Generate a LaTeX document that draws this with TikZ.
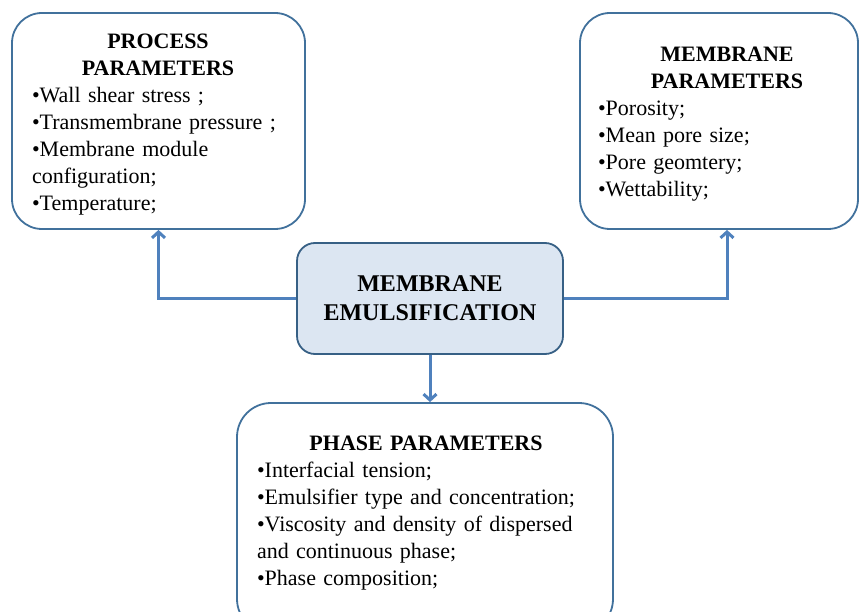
\documentclass[tikz,border=0pt]{standalone}
\usepackage{fontspec}
\setmainfont{Liberation Serif}
\usetikzlibrary{arrows.meta, positioning}

\definecolor{boxline}{RGB}{65,113,156}
\definecolor{flowline}{RGB}{79,129,189}
\definecolor{centrefill}{RGB}{220,230,242}

\begin{document}
\begin{tikzpicture}[x=1pt, y=-1pt,
    parambox/.style={draw=boxline, line width=1.8pt, rounded corners=30pt, fill=white, inner sep=0pt},
    centrebox/.style={draw=boxline!85!black, line width=1.8pt, rounded corners=18pt, fill=centrefill,
        inner sep=0pt, align=center, font=\fontsize{24}{29}\selectfont\bfseries},
    paramtext/.style={inner sep=0pt, anchor=north, font=\fontsize{22}{27}\selectfont,
        execute at begin node=\setlength{\parindent}{0pt}},
    flow/.style={draw=flowline, line width=3pt, -{Straight Barb[length=6pt, width=13pt]}}]
        \useasboundingbox (0,0) rectangle (862,612);
        \clip (0,0) rectangle (862,612);

        % the three parameter boxes
        \node[parambox, minimum width=293pt, minimum height=216pt] (process) at (158.5,121) {};
        \node[parambox, minimum width=278pt, minimum height=216pt] (membrane) at (719,121) {};
        \node[parambox, minimum width=376pt, minimum height=230pt, rounded corners=34pt] (phase) at (425,518) {};

        \node[centrebox, minimum width=266pt, minimum height=111pt] (emul) at (430,298.5) {MEMBRANE\\EMULSIFICATION};

        % box texts
        \node[paramtext, text width=252pt] (processtext) at (158,34)
            {{\centering\bfseries PROCESS\\PARAMETERS\par}\raggedright
             •Wall shear stress ;\\•Transmembrane pressure ;\\•Membrane module\\configuration;\\•Temperature;};
        \node[paramtext, text width=258pt] (membranetext) at (727,47)
            {{\centering\bfseries MEMBRANE\\PARAMETERS\par}\raggedright
             •Porosity;\\•Mean pore size;\\•Pore geomtery;\\•Wettability;};
        \node[paramtext, text width=338pt] (phasetext) at (426,436)
            {{\centering\bfseries PHASE PARAMETERS\par}\raggedright
             •Interfacial tension;\\•Emulsifier type and concentration;\\•Viscosity and density of dispersed\\and continuous phase;\\•Phase composition;};

        % connectors
        \draw[flow] (emul.west) -| (process.south);
        \draw[flow] (emul.east) -| ([xshift=8pt]membrane.south);
        \draw[flow] (emul.south) -- (emul.south |- phase.north);
\end{tikzpicture}
\end{document}
